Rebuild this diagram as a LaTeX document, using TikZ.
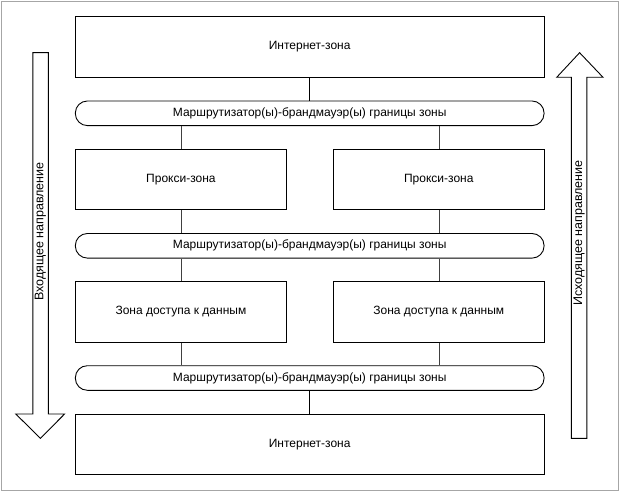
\documentclass[tikz,border=0pt]{standalone}
\usepackage{fontspec}
\setmainfont{Liberation Sans}
\begin{document}
\begin{tikzpicture}[x=1pt,y=-1pt,
  zone/.style={draw=black,line width=0.9pt,minimum width=468.7pt,minimum height=60.5pt,inner sep=0pt,font=\fontsize{12}{14}\selectfont},
  half/.style={zone,minimum width=211pt},
  router/.style={draw=black,line width=0.9pt,rounded corners=12pt,minimum width=468.7pt,minimum height=24.6pt,inner sep=0pt,font=\fontsize{12}{14}\selectfont},
  mainlink/.style={draw=black,line width=0.9pt},
  sidelink/.style={draw=black!75,line width=0.6pt},
  bigarrow/.style={draw=black,line width=0.9pt,fill=white,line join=miter},
  dirtext/.style={rotate=90,font=\fontsize{12.5}{14}\selectfont,inner sep=0pt}]
\useasboundingbox (0,0) rectangle (620,492);
\draw[black!35,line width=0.8pt] (1,1) rectangle (618.5,490.5);
% zones
\node[zone] (inetTop) at (309.7,47) {\raisebox{-2pt}{Интернет-зона}};
\node[router] (r1) at (309.7,113.3) {Маршрутизатор(ы)-брандмауэр(ы) границы зоны};
\node[half] (proxyL) at (180.9,179.3) {Прокси-зона};
\node[half] (proxyR) at (438.8,179.3) {\raisebox{2.5pt}{Прокси-зона}};
\node[router] (r2) at (309.7,245.8) {Маршрутизатор(ы)-брандмауэр(ы) границы зоны};
\node[half] (dataL) at (180.9,311.8) {Зона доступа к данным};
\node[half] (dataR) at (438.8,311.8) {\raisebox{1.5pt}{Зона доступа к данным}};
\node[router] (r3) at (309.7,378) {Маршрутизатор(ы)-брандмауэр(ы) границы зоны};
\node[zone] (inetBot) at (309.7,444.2) {Интернет-зона};
% connectors
\draw[mainlink] (inetTop.south) -- (r1.north);
\draw[sidelink] (proxyL.north) -- (proxyL.north |- r1.south);
\draw[sidelink] (proxyR.north) -- (proxyR.north |- r1.south);
\draw[sidelink] (proxyL.south) -- (proxyL.south |- r2.north);
\draw[sidelink] (proxyR.south) -- (proxyR.south |- r2.north);
\draw[sidelink] (dataL.north) -- (dataL.north |- r2.south);
\draw[sidelink] (dataR.north) -- (dataR.north |- r2.south);
\draw[sidelink] (dataL.south) -- (dataL.south |- r3.north);
\draw[sidelink] (dataR.south) -- (dataR.south |- r3.north);
\draw[mainlink] (r3.south) -- (inetBot.north);
% direction arrows
\draw[bigarrow] (32.9,52.7) -- (48.3,52.7) -- (48.3,414) -- (64.6,414) -- (40.4,438.3) -- (15.8,414) -- (32.9,414) -- cycle;
\draw[bigarrow] (579.6,52.7) -- (603,77.3) -- (586.8,77.3) -- (586.8,438.3) -- (571.3,438.3) -- (571.3,77.3) -- (556.7,77.3) -- cycle;
\node[dirtext] (inText) at (40.4,231.7) {Входящее направление};
\node[dirtext] (outText) at (579.2,233) {Исходящее направление};
\end{tikzpicture}
\end{document}
